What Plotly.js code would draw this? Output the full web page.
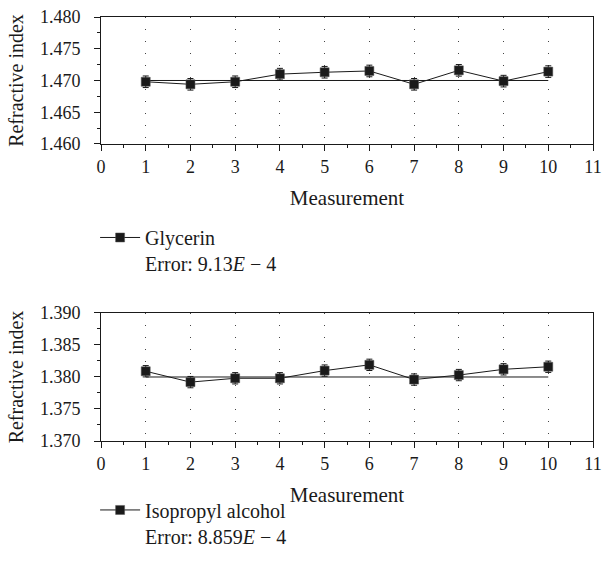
<!DOCTYPE html>
<html>
<head>
<meta charset="utf-8">
<script src="https://cdn.plot.ly/plotly-3.0.1.min.js"></script>
<style>html,body{margin:0;padding:0;background:#fff}</style>
</head>
<body>
<div id="chart" style="width:602px;height:580px"></div>
<script>
const measurements = [1, 2, 3, 4, 5, 6, 7, 8, 9, 10];
const glycerin = [1.4698, 1.4694, 1.4698, 1.4710, 1.4713, 1.4715, 1.4694, 1.4716, 1.4699, 1.4714];
const glycerinRef = 1.470;
const glycerinErr = 0.000913;
const isopropyl = [1.3809, 1.3792, 1.3798, 1.3798, 1.3810, 1.3819, 1.3796, 1.3803, 1.3812, 1.3816];
const isopropylRef = 1.380;
const isopropylErr = 0.0008859;
const legendNames = ["Glycerin<br>Error: 9.13<i>E</i> − 4", "Isopropyl alcohol<br>Error: 8.859<i>E</i> − 4"];

const F = "Liberation Serif, DejaVu Serif, serif";
const ink = "#1a1a1a";

function seriesTrace(y, err, name, xa, ya, leg) {
  return {
    x: measurements, y: y, xaxis: xa, yaxis: ya, name: name, legend: leg,
    type: "scatter", mode: "lines+markers",
    line: {color: ink, width: 1},
    marker: {symbol: "square", size: 9, color: ink, line: {color: "#555", width: 0.5}},
    error_y: {type: "constant", value: err, color: ink, thickness: 1, width: 3}
  };
}
function refTrace(v, xa, ya) {
  return {
    x: measurements, y: measurements.map(() => v), xaxis: xa, yaxis: ya,
    type: "scatter", mode: "lines", line: {color: ink, width: 1},
    showlegend: false, hoverinfo: "skip"
  };
}

const data = [
  refTrace(glycerinRef, "x", "y"),
  seriesTrace(glycerin, glycerinErr, legendNames[0], "x", "y", "legend"),
  refTrace(isopropylRef, "x2", "y2"),
  seriesTrace(isopropyl, isopropylErr, legendNames[1], "x2", "y2", "legend2")
];

function xax(anchor) {
  return {
    anchor: anchor, range: [0, 11], dtick: 1, tick0: 0,
    showline: true, linecolor: ink, linewidth: 1, mirror: true,
    ticks: "outside", ticklen: 6, tickcolor: ink, tickwidth: 1,
    showgrid: true, gridcolor: "#444", gridwidth: 1, griddash: "1px,11px",
    zeroline: false,
    minor: {dtick: 0.5, ticks: "outside", ticklen: 3, tickcolor: ink, showgrid: false},
    tickfont: {family: F, size: 18, color: ink},
    ticklabelstandoff: 0,
    title: {text: "Measurement", font: {family: F, size: 21, color: ink}, standoff: 14}
  };
}
function yax(anchor, domain, range) {
  return {
    anchor: anchor, domain: domain, range: range, dtick: 0.005, tickformat: ".3f",
    showline: true, linecolor: ink, linewidth: 1, mirror: true,
    ticks: "outside", ticklen: 6, tickcolor: ink, tickwidth: 1,
    showgrid: false, zeroline: false,
    minor: {dtick: 0.0025, ticks: "outside", ticklen: 3, tickcolor: ink, showgrid: false},
    tickfont: {family: F, size: 18, color: ink},
    ticklabelstandoff: 10,
    title: {text: "Refractive index", font: {family: F, size: 20, color: ink}, standoff: 10}
  };
}

const layout = {
  width: 602, height: 580,
  margin: {l: 101, r: 9, t: 17, b: 139},
  paper_bgcolor: "#fff", plot_bgcolor: "#fff",
  showlegend: true,
  xaxis: xax("y"),
  yaxis: yax("x", [0.7005, 1], [1.460, 1.480]),
  xaxis2: xax("y2"),
  yaxis2: yax("x2", [0, 0.3019], [1.370, 1.390]),
  legend: {x: -0.012, y: 0.526, xanchor: "left", yanchor: "top", valign: "top",
           font: {family: F, size: 20, color: ink}, bgcolor: "rgba(0,0,0,0)", itemwidth: 40},
  legend2: {x: -0.012, y: -0.1166, xanchor: "left", yanchor: "top", valign: "top",
           font: {family: F, size: 20, color: ink}, bgcolor: "rgba(0,0,0,0)", itemwidth: 40}
};

Plotly.newPlot("chart", data, layout, {displayModeBar: false, staticPlot: true});
</script>
</body>
</html>
